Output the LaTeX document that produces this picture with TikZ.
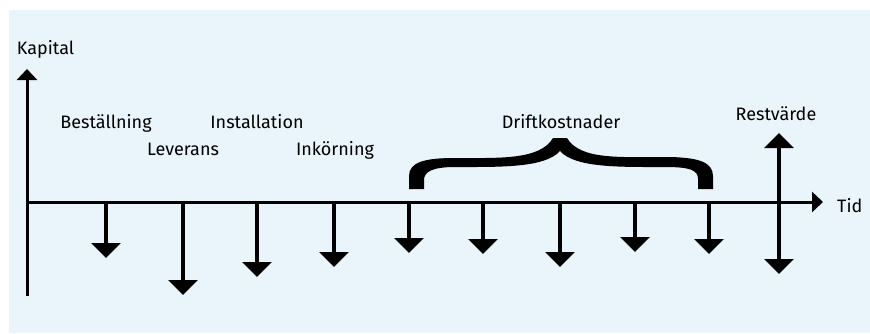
\documentclass[tikz,border=0pt]{standalone}
\usepackage{fontspec}
\setmainfont{Fira Sans}
\usetikzlibrary{arrows.meta}
\definecolor{panelBlue}{HTML}{EAF4FB}
\tikzset{
  axisline/.style = {-{Triangle[length=11pt, width=20pt]}, line width=3pt},
  cost/.style     = {-{Triangle[length=15pt, width=29pt]}, line width=4pt},
  lbl/.style      = {font=\fontsize{18}{20}\selectfont, inner sep=0pt, anchor=base},
}

\begin{document}
\begin{tikzpicture}[x=1pt, y=-1pt]
  \useasboundingbox (0,0) rectangle (870,333);
  \fill[panelBlue] (9,10) rectangle (870,333);
  % axes
  \coordinate (ybot) at (27,296);
  \coordinate (ytop) at (27,69);
  \coordinate (o) at (27,202);
  \coordinate (xend) at (823,202);
  \draw[axisline] (ybot) -- (ytop);
  \draw[axisline] (o) -- (xend);
  \node[lbl] (kapital) at (45.5,54) {Kapital};
  \node[lbl, anchor=base west] (tid) at (837,212) {Tid};
  % payments
  \foreach \x/\tip [count=\i] in {106/258, 183/295, 257/277, 334/267, 409/253,
                                  483/254, 560/267, 635/252, 709/254} {
    \coordinate (a\i) at (\x,202);
    \coordinate (t\i) at (\x,\tip);
    \draw[cost] (a\i) -- (t\i);
  }
  \node[lbl] (bestallning) at (106,128) {Beställning};
  \node[lbl] (leverans) at (183,155) {Leverans};
  \node[lbl] (installation) at (257,128) {Installation};
  \node[lbl] (inkorning) at (335,155) {Inkörning};
  % residual value
  \coordinate (rtop) at (779,133);
  \coordinate (rbot) at (779,274);
  \draw[cost, {Triangle[length=15pt, width=29pt]}-{Triangle[length=15pt, width=29pt]}]
    (rtop) -- (rbot);
  \node[lbl] (restvarde) at (776,120) {Restvärde};
  % brace over operating costs
  \fill (409,189) -- (409,176)
    .. controls (409,162) and (425,158) .. (455,158)
    .. controls (500,158) and (540,160) .. (553,138)
    -- (567,138)
    .. controls (580,160) and (620,157) .. (665,157)
    .. controls (698,157) and (713,162) .. (713,176)
    -- (713,189) -- (698,189) -- (698,179)
    .. controls (698,170) and (690,167) .. (665,167)
    .. controls (620,167) and (575,168) .. (560,151)
    .. controls (545,168) and (500,167) .. (455,167)
    .. controls (432,167) and (424,172) .. (424,180)
    -- (424,189) -- cycle;
  \node[lbl] (drift) at (561,128) {Driftkostnader};
\end{tikzpicture}
\end{document}
